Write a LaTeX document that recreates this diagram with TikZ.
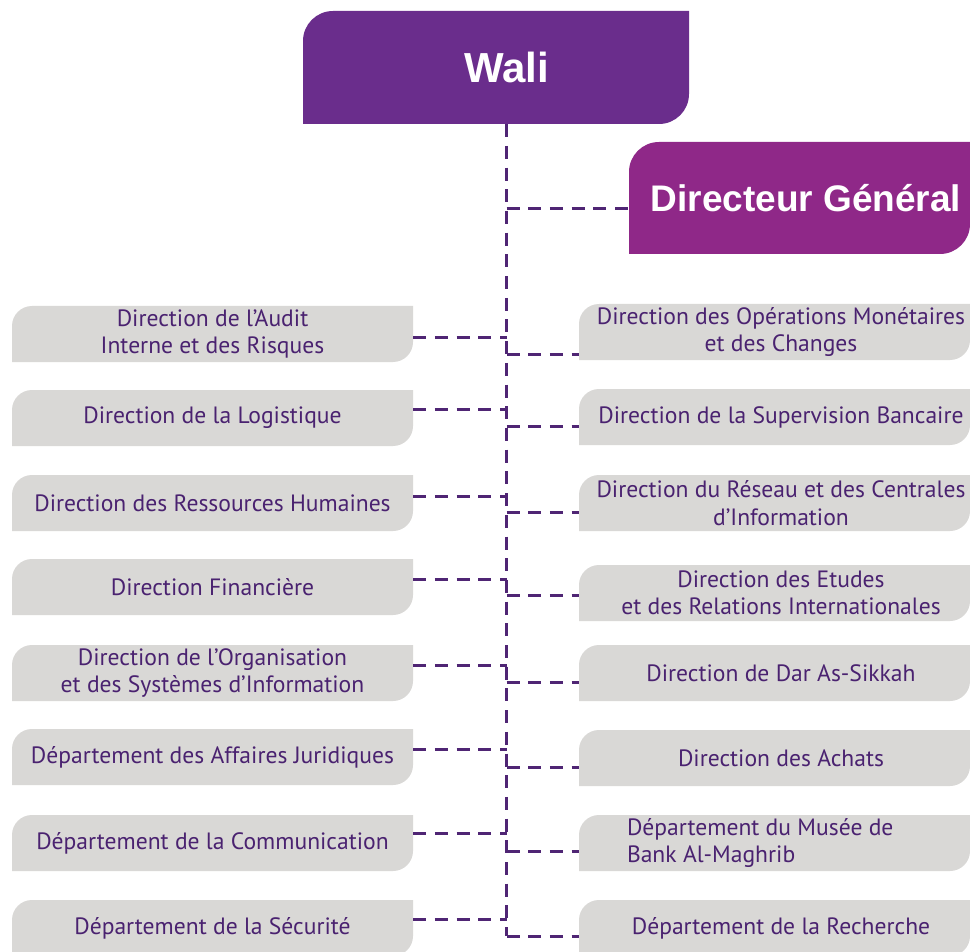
\documentclass[tikz,border=0pt]{standalone}
\usepackage{fontspec}
\setmainfont{PT Sans}
\newfontfamily\titlefont{Liberation Sans}
\definecolor{waliC}{HTML}{6A2D8C}
\definecolor{dgC}{HTML}{8F2888}
\definecolor{boxC}{HTML}{D9D8D6}
\definecolor{txtC}{HTML}{4A2270}
\definecolor{lineC}{HTML}{4F2574}
\newcommand{\bodyfont}{\fontsize{23.6}{27.5}\selectfont}
\tikzset{
  card/.style n args={3}{inner sep=0pt, path picture={
    \fill[#1] (path picture bounding box.south west)
      -- ([yshift=-#2]path picture bounding box.north west)
      arc[start angle=180,end angle=90,radius=#2]
      -- ([xshift=-#3]path picture bounding box.north east)
      -- ([xshift=-#3,yshift=#2]path picture bounding box.south east)
      arc[start angle=0,end angle=-90,radius=#2]
      -- cycle;}},
  lbox/.style={card={boxC}{20pt}{0pt}, minimum width=401pt, minimum height=56pt,
    text=txtC, font=\bodyfont, align=center},
  rbox/.style={card={boxC}{20pt}{13pt}, minimum width=404pt, minimum height=56pt,
    text=txtC, font=\bodyfont, align=center},
  conn/.style={draw=lineC, line width=3pt, dash pattern=on 13pt off 8.7pt}
}
\begin{document}
\begin{tikzpicture}[x=1pt,y=-1pt]
\fill[white] (0,0) rectangle (970,952);
\useasboundingbox (0,0) rectangle (970,952);
% top boxes
\node[card={waliC}{30pt}{21pt}, minimum width=407pt, minimum height=113pt,
  text=white, font=\titlefont\bfseries\fontsize{42}{48}\selectfont] (W) at (506.5,67.5) {Wali};
\node[card={dgC}{30pt}{13pt}, minimum width=354pt, minimum height=112pt,
  text=white, font=\titlefont\bfseries\fontsize{37}{44}\selectfont] (DG) at (806,198) {Directeur Général};
% left column
\node[lbox] (L1) at (212.5,334) {Direction de l’Audit\\Interne et des Risques};
\node[lbox] (L2) at (212.5,418) {Direction de la Logistique};
\node[lbox] (L3) at (212.5,503) {Direction des Ressources Humaines};
\node[lbox] (L4) at (212.5,587) {Direction Financière};
\node[lbox] (L5) at (212.5,673) {Direction de l’Organisation\\et des Systèmes d’Information};
\node[lbox] (L6) at (212.5,757) {Département des Affaires Juridiques};
\node[lbox] (L7) at (212.5,843) {Département de la Communication};
\node[lbox] (L8) at (212.5,928) {Département de la Sécurité};
% right column
\node[rbox] (R1) at (781,332) {Direction des Opérations Monétaires\\et des Changes};
\node[rbox] (R2) at (781,417) {Direction de la Supervision Bancaire};
\node[rbox] (R3) at (781,503) {Direction du Réseau et des Centrales\\d’Information};
\node[rbox] (R4) at (781,593) {Direction des Etudes\\et des Relations Internationales};
\node[rbox] (R5) at (781,673) {Direction de Dar As-Sikkah};
\node[rbox] (R6) at (781,758) {Direction des Achats};
\node[rbox, align=flush left, text width=308pt, inner xsep=48pt] (R7) at (781,843) {Département du Musée de\\Bank Al-Maghrib};
\node[rbox] (R8) at (781,928) {Département de la Recherche};
% connectors
\coordinate (spine) at (506.5,936);
\draw[conn] (W.south) -- (W.south |- spine);
\coordinate (jD) at (506.5,209);
\draw[conn] (jD) -- (DG.west |- jD);
\foreach \i/\y in {1/338,2/409,3/496,4/579,5/665,6/749,7/833,8/919}{
  \coordinate (jL\i) at (506.5,\y);
  \draw[conn] (L\i.east |- jL\i) -- (jL\i);
}
\foreach \i/\y in {1/354,2/426,3/512,4/595,5/682,6/767,7/851,8/936}{
  \coordinate (jR\i) at (506.5,\y);
  \draw[conn] (jR\i) -- (R\i.west |- jR\i);
}
\end{tikzpicture}
\end{document}
